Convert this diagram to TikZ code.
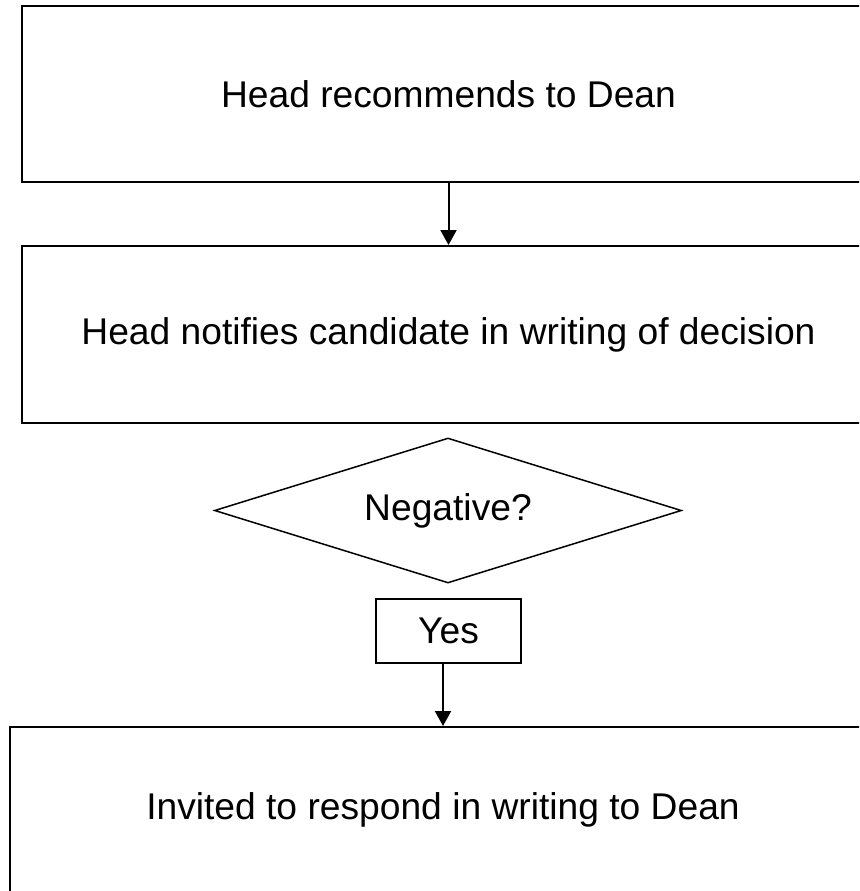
\documentclass[tikz,border=0pt]{standalone}
\usepackage{fontspec}
\setmainfont{Liberation Sans}
\usetikzlibrary{shapes.geometric,arrows.meta}
\begin{document}
\begin{tikzpicture}[x=0.5pt,y=-0.5pt,
  stepbox/.style={draw,line width=1pt,rectangle,inner sep=0pt,font=\fontsize{18.6pt}{22pt}\selectfont},
  decision/.style={draw,line width=0.75pt,diamond,shape aspect=3.2,inner sep=0pt,minimum width=233.5pt,minimum height=72.5pt,font=\fontsize{18.6pt}{22pt}\selectfont},
  labelbox/.style={draw,line width=0.75pt,rectangle,inner sep=0pt,minimum width=72.5pt,minimum height=32pt,font=\fontsize{18.6pt}{22pt}\selectfont},
  conn/.style={line width=1pt,-{Triangle[width=8pt,length=7.5pt]}}]
\clip (0,0) rectangle (859,891);
\fill[white] (0,0) rectangle (859,891);
\node[stepbox,minimum width=427pt,minimum height=88pt] (b1) at (448.5,94) {Head recommends to Dean};
\node[stepbox,minimum width=427pt,minimum height=88.5pt] (b2) at (448.5,334.5) {Head notifies candidate in writing of decision};
\node[decision] (d) at (448,510.5) {Negative?};
\node[labelbox] (yes) at (448.5,631) {Yes};
\node[stepbox,minimum width=433pt,minimum height=83pt] (b3) at (443,810) {Invited to respond in writing to Dean};
\draw[conn] (b1.south) -- (b2.north);
\draw[conn] (yes.south -| b3.north) -- (b3.north);
\end{tikzpicture}
\end{document}
